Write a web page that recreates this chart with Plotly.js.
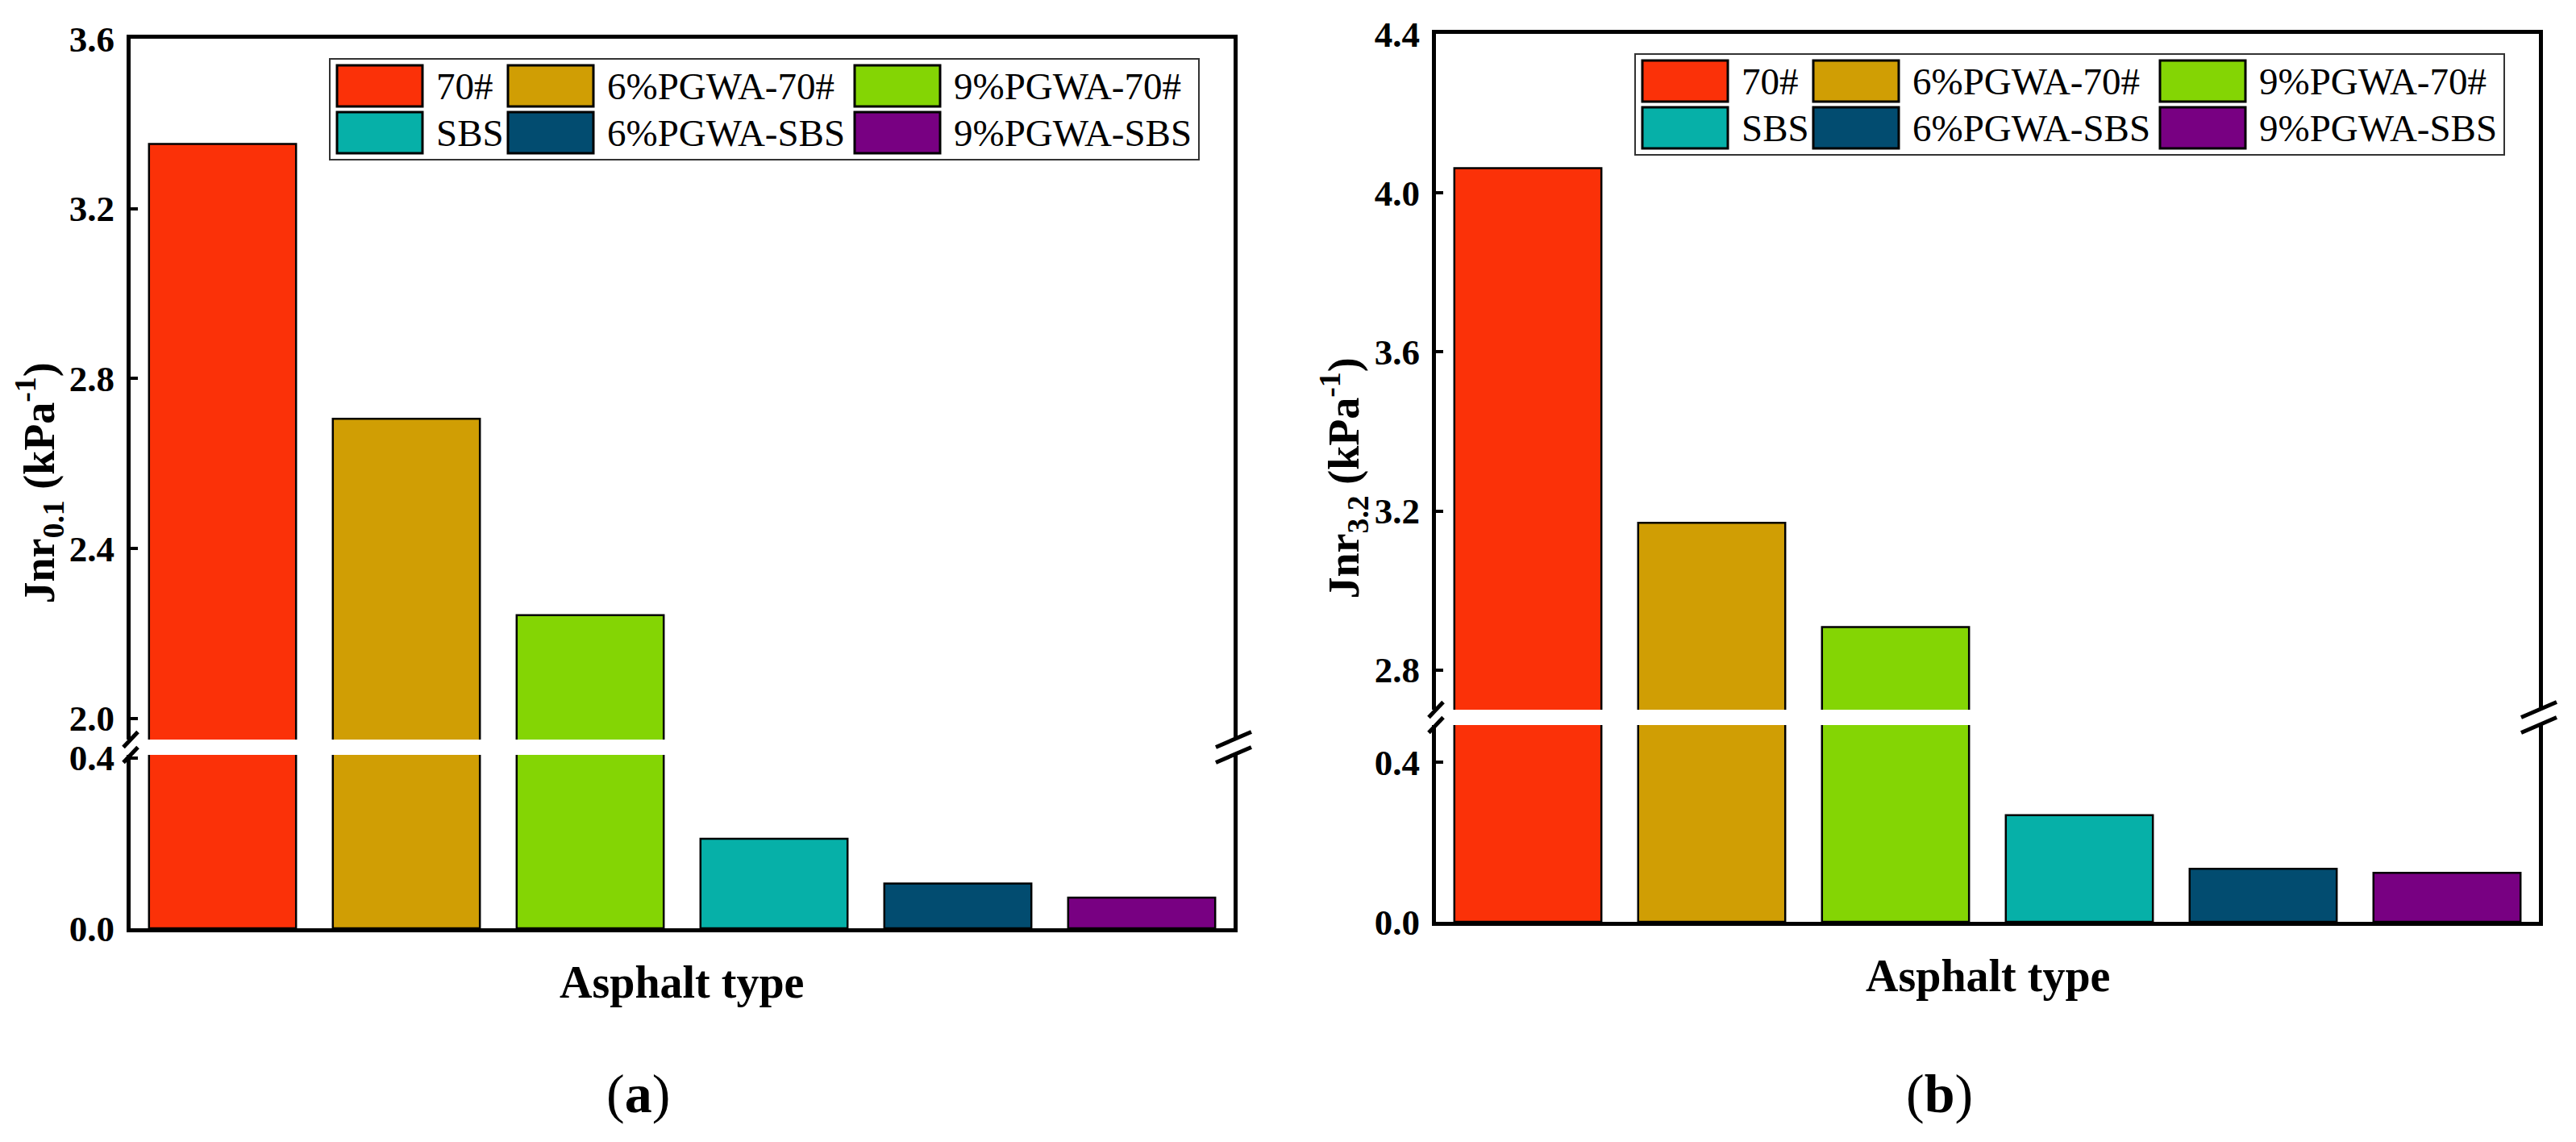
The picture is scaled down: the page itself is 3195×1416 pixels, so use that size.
<!DOCTYPE html>
<html>
<head>
<meta charset="utf-8">
<script src="https://cdn.plot.ly/plotly-3.0.1.min.js"></script>
<style>body{margin:0;background:#fff}</style>
</head>
<body>
<div id="graph" style="width:3195px;height:1416px"></div>
<script>
// asphalt types and their colours
var asphaltTypes = ['70#', '6%PGWA-70#', '9%PGWA-70#', 'SBS', '6%PGWA-SBS', '9%PGWA-SBS'];
var barColors = ['#fb3108', '#d09e04', '#84d504', '#06b0a8', '#024c70', '#780082'];

// Jnr values (kPa^-1)
var jnr01 = [3.352, 2.705, 2.243, 0.210, 0.105, 0.072];
var jnr32 = [4.062, 3.170, 2.908, 0.268, 0.133, 0.123];

// tick values of the broken y axes
var ticksLowA = [0.0, 0.4];
var ticksHighA = [2.0, 2.4, 2.8, 3.2, 3.6];
var ticksLowB = [0.0, 0.4];
var ticksHighB = [2.8, 3.2, 3.6, 4.0, 4.4];

var W = 3195, H = 1416;
var serif = 'Liberation Serif, Times New Roman, serif';
function px(x) { return x / W; }
function py(y) { return 1 - y / H; }
function fmt(arr) { return arr.map(function(v) { return v.toFixed(1); }); }
function ref(letter, id) { return letter + (id === 1 ? '' : id); }
function key(letter, id) { return letter + 'axis' + (id === 1 ? '' : id); }
function extend(a, b) { return Object.assign({}, a, b); }

// panel geometry in pixels
var plotWidth = 1368;
var panels = [
    { left: 162, top: 48, bottom: 1151, breakTop: 917, breakBottom: 936,
      values: jnr01, lowRange: [0, 0.407], highRange: [1.95, 3.6],
      lowTicks: ticksLowA, highTicks: ticksHighA,
      title: 'Jnr<sub>0.1</sub> (kPa<sup>-1</sup>)', tag: 'a', tagX: 791, tagY: 1356 },
    { left: 1781, top: 42, bottom: 1143, breakTop: 880, breakBottom: 899,
      values: jnr32, lowRange: [0, 0.494], highRange: [2.70, 4.4],
      lowTicks: ticksLowB, highTicks: ticksHighB,
      title: 'Jnr<sub>3.2</sub> (kPa<sup>-1</sup>)', tag: 'b', tagX: 2405, tagY: 1356 }
];

var data = [];
var layout = {
    width: W, height: H,
    margin: { l: 0, r: 0, t: 0, b: 0 },
    paper_bgcolor: 'white', plot_bgcolor: 'white',
    showlegend: false,
    shapes: [], annotations: []
};

var xBase = {
    range: [-0.5, 5.5], showline: true, linewidth: 5, linecolor: 'black',
    showticklabels: false, ticks: '', showgrid: false, zeroline: false, fixedrange: true
};
var yBase = {
    showline: true, mirror: true, linewidth: 5, linecolor: 'black',
    ticks: 'inside', ticklen: 9, tickwidth: 4, tickcolor: 'black',
    showgrid: false, zeroline: false, tickmode: 'array', fixedrange: true,
    ticklabelstandoff: 6,
    tickfont: { family: serif, size: 45, color: 'black', weight: 'bold' }
};

function slash(cx, cy, dx, dy) {
    return { type: 'line', xref: 'paper', yref: 'paper',
        x0: px(cx - dx), y0: py(cy + dy), x1: px(cx + dx), y1: py(cy - dy),
        line: { color: 'black', width: 5 } };
}

panels.forEach(function(p, k) {
    var idLow = k * 2 + 1, idHigh = k * 2 + 2;
    var right = p.left + plotWidth;
    var xDomain = [px(p.left), px(right)];

    // same bars in the lower and upper part of the broken axis
    [idLow, idHigh].forEach(function(id) {
        data.push({
            type: 'bar',
            x: asphaltTypes,
            y: p.values,
            width: 0.8,
            xaxis: ref('x', id), yaxis: ref('y', id),
            marker: { color: barColors, line: { color: 'black', width: 2.5 } },
            hoverinfo: 'skip', showlegend: false
        });
    });

    layout[key('x', idLow)] = extend(xBase, { domain: xDomain, anchor: ref('y', idLow) });
    layout[key('x', idHigh)] = extend(xBase, { domain: xDomain, anchor: ref('y', idHigh), side: 'top' });
    layout[key('y', idLow)] = extend(yBase, {
        domain: [py(p.bottom), py(p.breakBottom)], anchor: ref('x', idLow),
        range: p.lowRange, tickvals: p.lowTicks, ticktext: fmt(p.lowTicks)
    });
    layout[key('y', idHigh)] = extend(yBase, {
        domain: [py(p.breakTop), py(p.top)], anchor: ref('x', idHigh),
        range: p.highRange, tickvals: p.highTicks, ticktext: fmt(p.highTicks)
    });

    // break marks on both sides
    [p.breakTop, p.breakBottom].forEach(function(y) {
        layout.shapes.push(slash(p.left, y, 9, 9.5));
        layout.shapes.push(slash(right, y, 22, 9.5));
    });

    // legend box, 3 columns x 2 rows
    layout.shapes.push({ type: 'rect', xref: 'paper', yref: 'paper',
        x0: px(p.left + 247), x1: px(p.left + 1325), y0: py(p.top + 150), y1: py(p.top + 25),
        fillcolor: 'white', line: { color: '#333', width: 2 } });
    var legendCols = [256, 468, 898];
    asphaltTypes.forEach(function(name, i) {
        var sx = p.left + legendCols[i % 3];
        var sy = p.top + 33 + Math.floor(i / 3) * 58;
        layout.shapes.push({ type: 'rect', xref: 'paper', yref: 'paper',
            x0: px(sx), x1: px(sx + 106), y0: py(sy + 51), y1: py(sy),
            fillcolor: barColors[i], line: { color: 'black', width: 3 } });
        layout.annotations.push({ xref: 'paper', yref: 'paper',
            x: px(sx + 121), y: py(sy + 26), xanchor: 'left', yanchor: 'middle',
            text: name, showarrow: false,
            font: { family: serif, size: 47, color: 'black' } });
    });

    // axis titles and panel tag
    layout.annotations.push({ xref: 'paper', yref: 'paper',
        x: px(p.left - 114), y: py((p.top + p.bottom) / 2), xanchor: 'center', yanchor: 'middle',
        textangle: -90, text: p.title, showarrow: false,
        font: { family: serif, size: 54, color: 'black', weight: 'bold' } });
    layout.annotations.push({ xref: 'paper', yref: 'paper',
        x: px(p.left + plotWidth / 2), y: py(p.bottom + 67), xanchor: 'center', yanchor: 'middle',
        text: 'Asphalt type', showarrow: false,
        font: { family: serif, size: 56, color: 'black', weight: 'bold' } });
    layout.annotations.push({ xref: 'paper', yref: 'paper',
        x: px(p.tagX), y: py(p.tagY), xanchor: 'center', yanchor: 'middle',
        text: '(<b>' + p.tag + '</b>)', showarrow: false,
        font: { family: serif, size: 68, color: 'black' } });
});

Plotly.newPlot('graph', data, layout, { displayModeBar: false, staticPlot: true });
</script>
</body>
</html>
